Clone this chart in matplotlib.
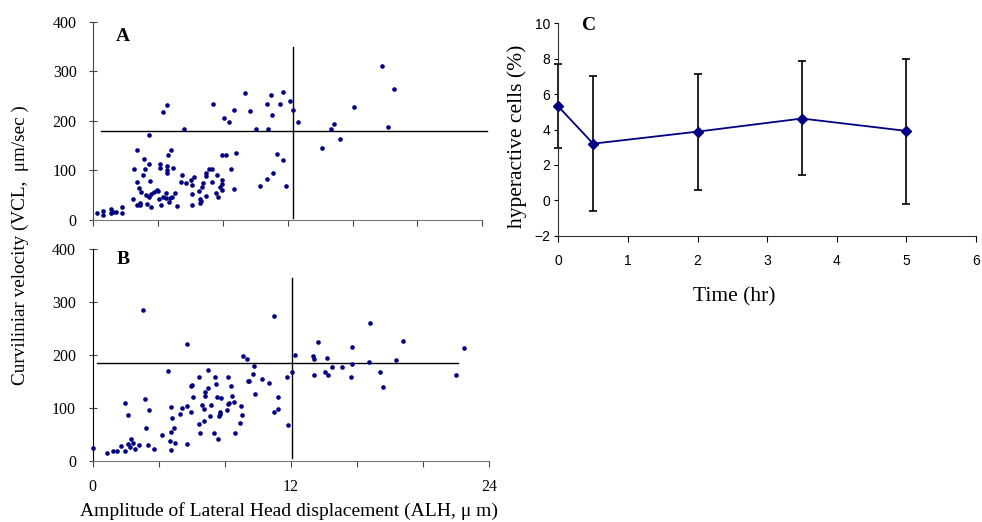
import matplotlib
matplotlib.use("Agg")
import matplotlib.pyplot as plt
import numpy as np

SERIF = "Liberation Serif"
SANS = "Liberation Sans"
NAVY = "#000080"

# panel A: ALH (um) vs VCL (um/sec)
a_alh = [0.21, 0.62, 0.62, 1.07, 1.07, 1.23, 1.39, 1.74, 1.74,
         4.3, 4.55, 5.58, 7.38, 8.04, 8.37, 8.7, 9.35, 9.68, 10.05, 10.7, 10.79,
         10.95, 11.04, 11.49, 11.73, 12.14, 12.31, 12.6, 14.1, 14.69, 14.85, 15.2,
         16.1, 17.8, 18.17, 18.56,
         3.43, 2.67, 4.82, 3.1, 4.62, 2.5, 3.2, 3.45, 4.12, 4.12, 4.53, 4.55, 4.57,
         4.92, 3.08, 2.71, 3.49, 2.79, 2.97, 3.24, 3.43, 3.59, 3.77, 3.9, 3.98,
         2.42, 2.71, 2.87, 2.87, 3.34, 3.57, 4.06, 4.16, 4.27, 4.47, 4.51, 4.64,
         4.76, 4.86, 5.05, 5.19, 5.44, 5.5, 5.74, 6.03, 6.2, 6.11, 6.11, 6.11,
         6.52, 6.6, 6.71, 6.77, 6.56, 6.65, 6.93, 6.97, 6.97, 7.14, 7.34, 7.34,
         7.63, 7.59, 7.69, 7.84, 7.96, 7.96, 7.96, 7.96, 8.2, 8.47, 8.68, 8.78,
         10.26, 10.7, 11.08, 11.36, 11.69, 11.9]
a_vcl = [13.5, 18, 11, 21.5, 15, 16, 16, 25.6, 13.5,
         218, 231, 184, 233, 205, 197, 221.5, 257, 219, 184, 233, 183,
         252.5, 211, 233, 258, 241, 221, 197, 145, 183, 194, 164,
         227, 311, 188.5, 265,
         171.7, 141, 142, 124, 130.6, 103.7, 103.7, 112.5, 112.5, 104.4, 109, 101, 95,
         105, 90, 76.8, 78, 65.3, 56.6, 49.8, 47, 51.9, 57.2, 60.6, 59,
         41.8, 30.3, 35, 29.6, 32.3, 27, 43, 29.6, 47, 55.2, 43.8, 36.4,
         43.8, 45.8, 55.2, 28.3, 76.8, 90.9, 75.4, 80.8, 87.5, 70.7, 52.5, 30.3,
         59.3, 43, 67.3, 75.4, 35, 37.7, 48.5, 89.6, 95.6, 103.7, 102.4, 77.4,
         91.6, 53.9, 45.8, 67.3, 80.8, 72.7, 60.6, 131, 131.9, 103.7, 63.3, 135.4,
         68.7, 82, 95.6, 133.3, 121.2, 69.4]

# panel B
b_alh = [0.0, 0.85, 1.25, 1.5, 1.7, 1.98, 1.98, 2.14, 2.14, 2.3, 2.26, 2.46, 2.59,
         2.79, 3.03, 3.17, 3.21, 3.41, 3.37, 3.68, 4.22, 4.53, 4.65, 4.73, 4.73,
         4.73, 4.81, 4.95, 5.01, 5.31, 5.39, 5.7, 5.7, 5.72, 5.92, 6.02, 6.06,
         5.94, 6.42, 6.44, 6.51, 6.59, 6.73, 6.77, 6.77, 6.75, 6.95, 6.99, 7.15,
         7.11, 7.35, 7.41, 7.44, 7.52, 7.58, 7.68, 7.72, 7.66, 7.78, 8.12, 8.16,
         8.24, 8.2, 8.36, 8.44, 8.55, 8.59, 8.89, 8.97, 9.05, 9.09, 9.33, 9.37,
         9.43, 9.72, 9.78, 9.82, 10.24, 10.65, 10.95, 10.99, 11.19, 11.23, 11.76,
         11.84, 12.08, 12.22, 13.33, 13.37, 13.39, 13.64, 14.04, 14.2, 14.22,
         14.48, 15.11, 15.62, 15.68, 15.72, 16.69, 16.81, 17.37, 17.54, 18.38,
         18.79, 22.44, 21.96]
b_vcl = [24, 15, 19, 19, 27.8, 108.5, 19, 87, 31.5, 41, 25, 32.8, 22.7,
         29.7, 286, 116, 61.8, 95.9, 29.7, 22, 49.2, 169.7, 37.2, 101, 54.9,
         20.2, 80, 62.5, 34, 87.7, 100, 220, 31, 104, 142, 143.8, 121,
         92, 157.7, 68.8, 51.7, 106, 97, 130, 121.8, 74.4, 137.5, 171.6, 106,
         85, 51.7, 157.7, 144.5, 120, 40.4, 92, 88, 85, 118.6, 96.5, 107,
         109.8, 157.7, 142, 121.8, 111.7, 51.7, 72, 102.8, 87, 198, 192.4, 151.4,
         150.8, 164.7, 179.8, 126, 154, 146.4, 273.8, 92, 121, 97.8, 157.7,
         67.5, 167.8, 200.6, 198, 192.4, 162.8, 224.6, 168.5, 194.3, 162.8,
         177.3, 177.3, 157.7, 215, 182.3, 187.4, 260, 167.2, 140, 190.5,
         227, 213.3, 163]

# threshold lines (value, start, end)
a_hline = (180.5, 0.5, 24.3)
a_vline = (12.33, 5, 348)
b_hline = (184, 0.28, 22.1)
b_vline = (12.08, 6, 345)

# panel C: hyperactive cells (%) over time
c_time = [0, 0.5, 2, 3.5, 5]
c_mean = [5.3, 3.2, 3.88, 4.62, 3.92]
c_low = [2.97, -0.6, 0.58, 1.41, -0.2]
c_high = [7.68, 7.0, 7.15, 7.87, 7.98]

fig = plt.figure(figsize=(9.82, 5.22), dpi=100)
W, H = 982, 522

def px_axes(left, right, top, bottom):
    return fig.add_axes([left / W, 1 - bottom / H, (right - left) / W, (bottom - top) / H])

axA = px_axes(93.3, 482.3, 21.7, 220)
axB = px_axes(92.7, 489.3, 249.3, 460.7)
axC = px_axes(558.3, 976, 23.3, 235.7)

for ax, xs, ys, hl, vl in [(axA, a_alh, a_vcl, a_hline, a_vline),
                           (axB, b_alh, b_vcl, b_hline, b_vline)]:
    ax.scatter(xs, ys, s=11, color=NAVY, marker="o", linewidths=0, zorder=3, clip_on=False)
    ax.plot([hl[1], hl[2]], [hl[0], hl[0]], color="black", lw=1.0, clip_on=False)
    ax.plot([vl[0], vl[0]], [vl[1], vl[2]], color="black", lw=1.0, clip_on=False)
    ax.set_xlim(0, 24)
    ax.set_ylim(0, 400)
    ax.set_yticks(range(0, 401, 100))
    ax.set_xticks(range(0, 25, 4))
    for s in ["top", "right"]:
        ax.spines[s].set_visible(False)
    ax.spines["left"].set_color("#444444")
    ax.spines["bottom"].set_color("#777777")
    ax.tick_params(axis="y", direction="inout", length=6, pad=9, labelsize=11.5, color="#444444")
    ax.tick_params(axis="x", direction="out", length=4, pad=9, labelsize=11.5, color="#444444")
    for lb in ax.get_yticklabels() + ax.get_xticklabels():
        lb.set_fontfamily(SERIF)

axA.set_xticklabels([])
axB.set_xticklabels(["0", "", "", "12", "", "", "24"])
axB.spines["left"].set_color("black")

fig.text(123 / W, 1 - 36.3 / H, "A", fontsize=14, fontweight="bold", family=SERIF, ha="center", va="center")
fig.text(122.7 / W, 1 - 259.3 / H, "B", fontsize=14, fontweight="bold", family=SERIF, ha="center", va="center")
fig.text(589 / W, 1 - 25.5 / H, "C", fontsize=14, fontweight="bold", family=SERIF, ha="center", va="center")

fig.text(20 / W, 1 - 245 / H, "Curviliniar velocity (VCL,  \u03bcm/sec )", rotation=90,
         fontsize=13.8, family=SERIF, ha="center", va="center")
fig.text(289.5 / W, 1 - 511 / H, "Amplitude of Lateral Head displacement (ALH, \u03bc m)",
         fontsize=14, family=SERIF, ha="center", va="center")

# panel C
err = [np.array(c_mean) - np.array(c_low), np.array(c_high) - np.array(c_mean)]
axC.errorbar(c_time, c_mean, yerr=err, fmt="none", ecolor="black", elinewidth=1.2,
             capsize=3.2, capthick=1.2, clip_on=False, zorder=2)
axC.plot(c_time, c_mean, color=NAVY, lw=1.3, marker="D", ms=5, clip_on=False, zorder=3)
axC.set_xlim(0, 6)
axC.set_ylim(-2, 10)
axC.set_xticks(range(0, 7))
axC.set_yticks(range(-2, 11, 2))
for s in ["top", "right"]:
    axC.spines[s].set_visible(False)
axC.spines["left"].set_color("#333333")
axC.spines["bottom"].set_color("#333333")
axC.tick_params(axis="y", direction="out", length=3, pad=3, labelsize=10)
axC.tick_params(axis="x", direction="out", length=4, pad=9, labelsize=10)
for lb in axC.get_yticklabels() + axC.get_xticklabels():
    lb.set_fontfamily(SANS)

fig.text(516.7 / W, 1 - 136 / H, "hyperactive cells (%)", rotation=90, fontsize=15.5,
         family=SERIF, ha="center", va="center")
fig.text(733.8 / W, 1 - 296.7 / H, "Time (hr)", fontsize=15.5, family=SERIF, ha="center", va="center")

fig.savefig("out.png", dpi=100, facecolor="white")
